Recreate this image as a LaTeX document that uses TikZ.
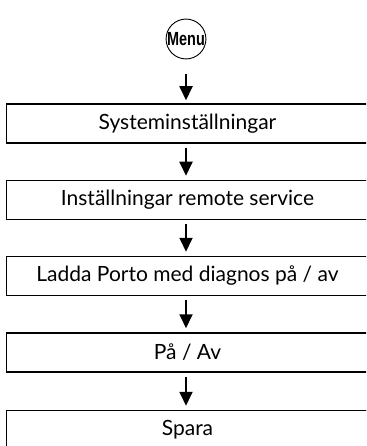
\documentclass[tikz,border=0pt]{standalone}
\usepackage{fontspec}
\setmainfont{Lato}
\newfontfamily\menufont{Liberation Sans}
\usetikzlibrary{arrows.meta,positioning}
\tikzset{
  flow/.style={-{Triangle[width=13pt,length=14pt]},line width=1.8pt,black},
  box/.style={draw,line width=1.5pt,minimum width=362pt,minimum height=39pt,inner sep=0pt,font=\fontsize{21}{24}\selectfont},
  menubtn/.style={draw,circle,line width=0.9pt,minimum size=39pt,inner sep=0pt}
}

\begin{document}
\begin{tikzpicture}[x=1pt,y=-1pt]
\useasboundingbox (0,0) rectangle (366,446);
\clip (0,0) rectangle (366,446);
\node[menubtn] (menu) at (186,39) {\menufont\fontsize{19}{21}\selectfont\scalebox{0.76}[1]{\textbf{Menu}}};
\node[box] (sys) at (187.5,123.5) {Systeminställningar};
\node[box] (remote) at (187.5,200) {Inställningar remote service};
\node[box] (porto) at (187.5,276) {Ladda Porto med diagnos på / av};
\node[box] (onoff) at (187.5,352.5) {På / Av};
\node[box] (save) at (187.5,430) {Spara};
\draw[flow,shorten <=15pt,shorten >=3pt] (menu) -- (menu|-sys.north);
\draw[flow,shorten <=4pt,shorten >=4pt] (sys.south-|menu) -- (remote.north-|menu);
\draw[flow,shorten <=4pt,shorten >=4pt] (remote.south-|menu) -- (porto.north-|menu);
\draw[flow,shorten <=4pt,shorten >=4pt] (porto.south-|menu) -- (onoff.north-|menu);
\draw[flow,shorten <=4pt,shorten >=4pt] (onoff.south-|menu) -- (save.north-|menu);
\end{tikzpicture}
\end{document}
